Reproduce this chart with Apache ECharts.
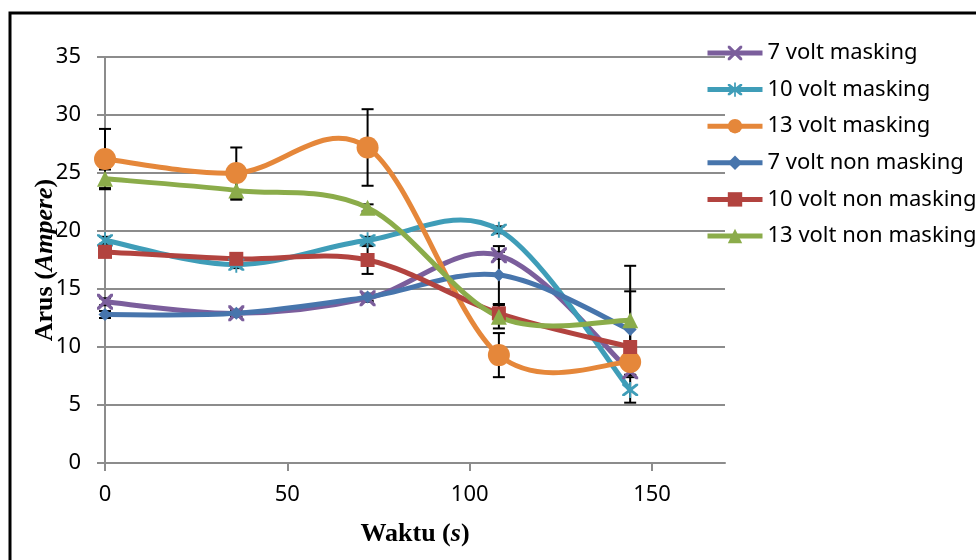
<!DOCTYPE html>
<html>
<head>
<meta charset="utf-8">
<script src="https://cdn.jsdelivr.net/npm/echarts@6/dist/echarts.min.js"></script>
<style>html,body{margin:0;padding:0;background:#fff}#c{width:976px;height:560px}</style>
</head>
<body>
<div id="c"></div>
<script>
const times = [0, 36, 72, 108, 144];
const seriesNames = ['7 volt masking','10 volt masking','13 volt masking','7 volt non masking','10 volt non masking','13 volt non masking'];
const v7m   = [13.9, 12.9, 14.2, 17.9, 7.9];
const v10m  = [19.2, 17.1, 19.2, 20.1, 6.3];
const v13m  = [26.2, 25.0, 27.2, 9.3, 8.7];
const v7n   = [12.8, 12.9, 14.3, 16.2, 11.5];
const v10n  = [18.2, 17.6, 17.5, 12.9, 10.0];
const v13n  = [24.5, 23.5, 22.0, 12.6, 12.3];
const e7m   = [0.3, 0.3, 0.3, 0.3, 0.3];
const e10m  = [0.3, 0.3, 0.3, 0.3, 1.1];
const e13m  = [2.6, 2.2, 3.3, 1.9, 0.5];
const e7n   = [0.3, 0.3, 0.3, 2.5, 3.3];
const e10n  = [0.4, 0.3, 1.2, 0.8, 0.3];
const e13n  = [0.8, 0.8, 0.3, 1.0, 4.7];
const xTicks = [0, 50, 100, 150];

const values = [v7m, v10m, v13m, v7n, v10n, v13n];
const errors = [e7m, e10m, e13m, e7n, e10n, e13n];
const colors = ['#7B5E9C', '#3F9DB8', '#E5873A', '#4775AC', '#B2433F', '#8BAC4A'];
const xPath = 'path://M0,0 L3,0 L10,7 L17,0 L20,0 L20,3 L13,10 L20,17 L20,20 L17,20 L10,13 L3,20 L0,20 L0,17 L7,10 L0,3 Z';
const starPath = 'path://M0,0 L3,0 L10,7 L17,0 L20,0 L20,3 L13,10 L20,17 L20,20 L17,20 L10,13 L3,20 L0,20 L0,17 L7,10 L0,3 Z M8.8,-3 L11.2,-3 L11.2,23 L8.8,23 Z';
const symbols = [xPath, starPath, 'circle', 'diamond', 'rect', 'triangle'];
const sizes = [16, 16, 22, 13, 14, 16];

function curveRenderer(color) {
  return function (params, api) {
    const k = params.dataIndexInside, n = params.dataInsideLength;
    if (k >= n - 1) return { type: 'group', children: [] };
    const P = j => { j = Math.max(0, Math.min(n - 1, j)); return api.coord([api.value(0, j), api.value(1, j)]); };
    const p0 = P(k - 1), p1 = P(k), p2 = P(k + 1), p3 = P(k + 2);
    return {
      type: 'bezierCurve',
      shape: {
        x1: p1[0], y1: p1[1], x2: p2[0], y2: p2[1],
        cpx1: p1[0] + (p2[0] - p0[0]) / 6, cpy1: p1[1] + (p2[1] - p0[1]) / 6,
        cpx2: p2[0] - (p3[0] - p1[0]) / 6, cpy2: p2[1] - (p3[1] - p1[1]) / 6
      },
      style: { stroke: color, lineWidth: 5, fill: null, lineCap: 'round' }
    };
  };
}

const errData = [];
values.forEach((arr, i) => arr.forEach((v, k) => {
  errData.push([times[k], v - errors[i][k], v + errors[i][k]]);
}));

const errSeries = {
  type: 'custom', z: 2, silent: true,
  data: errData,
  encode: { x: 0, y: [1, 2] },
  renderItem: function (params, api) {
    const lo = api.coord([api.value(0), api.value(1)]);
    const hi = api.coord([api.value(0), api.value(2)]);
    const w = 6;
    const st = { stroke: '#000', lineWidth: 2 };
    return { type: 'group', children: [
      { type: 'line', shape: { x1: lo[0], y1: lo[1], x2: hi[0], y2: hi[1] }, style: st },
      { type: 'line', shape: { x1: lo[0]-w, y1: lo[1], x2: lo[0]+w, y2: lo[1] }, style: st },
      { type: 'line', shape: { x1: hi[0]-w, y1: hi[1], x2: hi[0]+w, y2: hi[1] }, style: st }
    ]};
  }
};

const series = [errSeries];
seriesNames.forEach((n, i) => {
  const pts = times.map((t, k) => [t, values[i][k]]);
  series.push({
    type: 'custom', z: 3, silent: true, data: pts,
    encode: { x: 0, y: 1 },
    renderItem: curveRenderer(colors[i])
  });
  series.push({
    name: n, type: 'line', z: 3,
    data: pts,
    symbol: symbols[i], symbolSize: sizes[i], showAllSymbol: true,
    lineStyle: { color: colors[i], width: 5, opacity: 0 },
    itemStyle: { color: colors[i] },
    emphasis: { disabled: true }
  });
});

const chart = echarts.init(document.getElementById('c'));
chart.setOption({
  animation: false,
  backgroundColor: '#fff',
  grid: { left: 105, right: 251, top: 57, bottom: 97 },
  graphic: [{ type: 'rect', shape: { x: 10, y: 13, width: 1100, height: 700 }, style: { fill: null, stroke: '#000', lineWidth: 3 }, z: 100 }],
  legend: {
    orient: 'vertical', left: 700, top: 36, itemWidth: 55, itemHeight: 18, itemGap: 12.6,
    lineStyle: { width: 5, opacity: 1 },
    textStyle: { fontFamily: 'Noto Sans', fontSize: 22, lineHeight: 24, color: '#000' },
    data: seriesNames
  },
  xAxis: {
    type: 'value', min: 0, max: 170, interval: 50,
    name: '{b|Waktu (}{i|s}{b|)}', nameLocation: 'middle', nameGap: 58, nameMoveOverlap: false,
    nameTextStyle: { rich: {
      b: { fontFamily: 'Liberation Serif', fontWeight: 'bold', fontSize: 26, color: '#000' },
      i: { fontFamily: 'Liberation Serif', fontWeight: 'bold', fontStyle: 'italic', fontSize: 26, color: '#000' } } },
    axisLine: { lineStyle: { color: '#8c8c8c', width: 2 } },
    axisTick: { show: true, length: 8, lineStyle: { color: '#8c8c8c', width: 2 }, customValues: xTicks },
    axisLabel: { fontFamily: 'Noto Sans', fontSize: 22, color: '#000', margin: 21, customValues: xTicks },
    splitLine: { show: false }
  },
  yAxis: {
    type: 'value', min: 0, max: 35, interval: 5,
    name: '{b|Arus (}{i|Ampere}{b|)}', nameLocation: 'middle', nameGap: 47, nameMoveOverlap: false,
    nameTextStyle: { rich: {
      b: { fontFamily: 'Liberation Serif', fontWeight: 'bold', fontSize: 26, color: '#000' },
      i: { fontFamily: 'Liberation Serif', fontWeight: 'bold', fontStyle: 'italic', fontSize: 26, color: '#000' } } },
    axisLine: { show: true, lineStyle: { color: '#8c8c8c', width: 2 } },
    axisTick: { show: true, length: 8, lineStyle: { color: '#8c8c8c', width: 2 } },
    axisLabel: { fontFamily: 'Noto Sans', fontSize: 22, color: '#000', margin: 24 },
    splitLine: { lineStyle: { color: '#8c8c8c', width: 2 } }
  },
  series: series
});
</script>
</body>
</html>
